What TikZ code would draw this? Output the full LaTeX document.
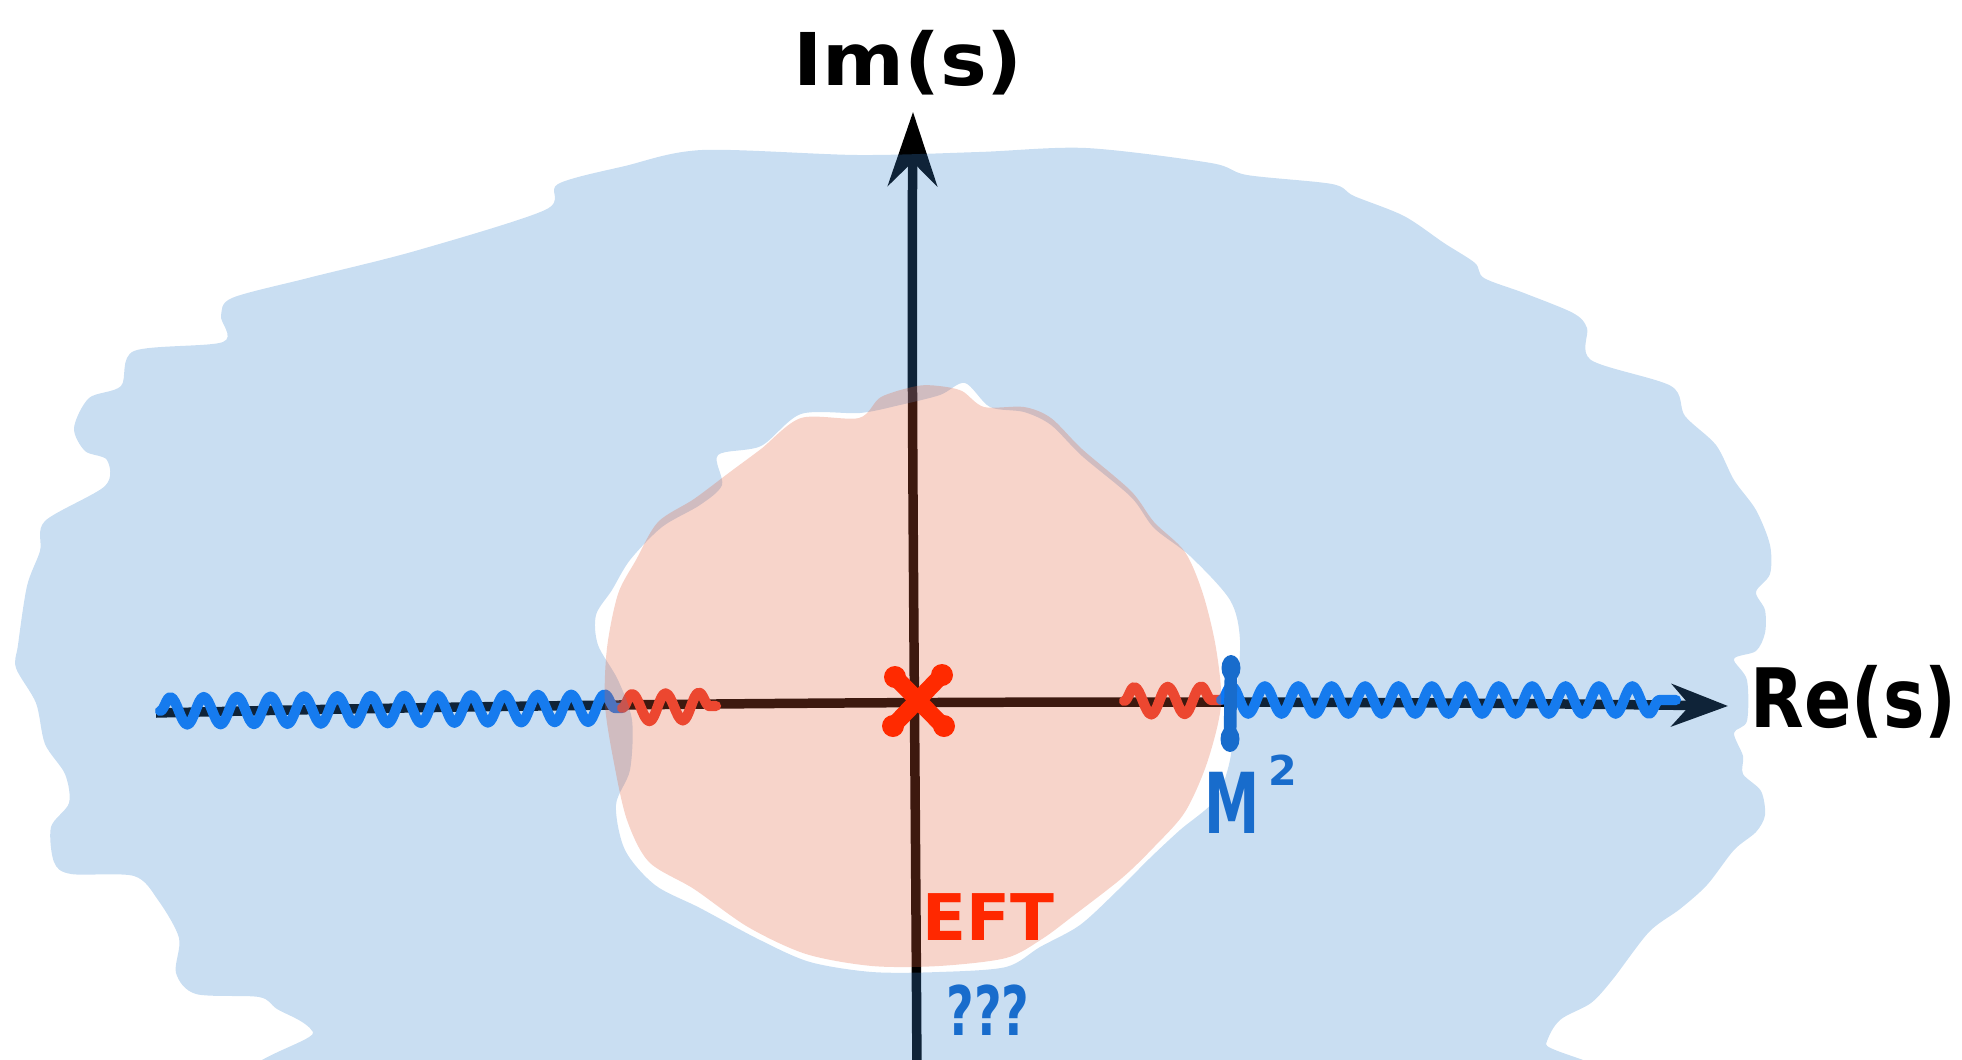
\documentclass[tikz,border=0pt]{standalone}
\usepackage{fontspec}
\setmainfont{DejaVu Sans}
\usepackage{graphicx}
\usetikzlibrary{arrows.meta,decorations.pathmorphing}
\definecolor{planeblue}{RGB}{56,133,207}
\definecolor{eftpink}{RGB}{226,96,59}
\definecolor{cutblue}{RGB}{10,120,250}
\definecolor{cutred}{RGB}{240,62,44}
\definecolor{polered}{RGB}{255,42,0}
\definecolor{massblue}{RGB}{24,108,204}
\definecolor{eftred}{RGB}{255,40,0}

\begin{document}
\begin{tikzpicture}[
  x=0.01cm,y=-0.01cm,
  axisline/.style={line width=2.7pt,draw=black},
  cutline/.style={line width=2.9pt,line cap=round,line join=round,decorate,
    decoration={snake,amplitude=3.9pt,segment length=9.5pt}},
  regionfill/.style={fill opacity=0.27},
  handlbl/.style={inner sep=0pt,font=\bfseries},
]
\useasboundingbox (0,0) rectangle (1962,1060);

% axes and cuts, below the washes
\coordinate (imlow) at (917,1080);
\coordinate (imtip) at (913,112);
\coordinate (relow) at (156,713);
\coordinate (retip) at (1728,706);
\draw[axisline,-{Stealth[length=21pt,width=14pt]}] (imlow) .. controls (915,700) and (911,400) .. (imtip);
\draw[axisline,-{Stealth[length=16pt,width=12pt]}] (relow) .. controls (700,700) and (1300,700) .. (retip);

\coordinate (cutLstart) at (160,711);
\coordinate (cutLmid) at (622,708);
\coordinate (cutLend) at (716,706);
\coordinate (cutRstart) at (1124,701);
\coordinate (branch) at (1221,700);
\coordinate (cutRend) at (1676,700);
\draw[cutline,cutblue] (cutLstart) -- (cutLmid);
\draw[cutline,cutred] (cutLmid) -- (cutLend);
\draw[cutline,cutred] (cutRstart) -- (branch);
\draw[cutline,cutblue] (branch) -- (cutRend);

% the unknown region, with a hole for the EFT disk
\fill[regionfill,planeblue,even odd rule]
  plot[smooth cycle] coordinates {(326,1090) (313,1032) (277,1009) (259,997) (196,994) (176,973) (179,938) (158,900) (134,876) (71,874) (54,862) (51,827) (69,803) (65,774) (45,744) (36,703) (16,668) (18,645) (27,586) (40,551) (45,521) (105,486) (107,460) (85,451) (74,428) (89,398) (121,386) (134,351) (223,342) (221,316) (232,298) (308,278) (415,251) (545,210) (558,184) (625,166) (702,150) (858,155) (979,152) (1086,148) (1211,163) (1247,175) (1332,184) (1354,196) (1404,216) (1444,243) (1475,263) (1484,278) (1524,293) (1573,313) (1587,328) (1591,360) (1671,386) (1685,416) (1716,445) (1734,480) (1756,510) (1770,545) (1770,574) (1756,592) (1765,610) (1765,633) (1756,651) (1734,659) (1747,680) (1747,721) (1734,733) (1743,756) (1743,774) (1761,791) (1765,815) (1756,832) (1734,850) (1707,885) (1680,909) (1649,932) (1613,979) (1591,1003) (1560,1020) (1546,1044) (1537,1090)}
  plot[smooth cycle] coordinates {(900,405) (940,395) (965,383) (990,407) (1024,412) (1051,425) (1082,456) (1131,497) (1154,528) (1190,556) (1230,600) (1240,640) (1236,700) (1230,760) (1215,800) (1180,830) (1150,858) (1118,890) (1080,925) (1040,947) (1006,967) (939,972) (872,972) (810,962) (760,940) (700,908) (655,885) (625,850) (616,805) (630,770) (632,720) (618,680) (598,645) (596,615) (612,590) (630,560) (662,527) (700,505) (722,485) (718,455) (761,446) (801,414) (860,413)};

% EFT disk
\fill[regionfill,eftpink]
  plot[smooth cycle] coordinates {(917,386) (939,386) (962,391) (984,407) (1024,407) (1051,418) (1082,449) (1131,491) (1154,522) (1185,552) (1203,594) (1216,648) (1221,705) (1207,763) (1185,812) (1154,847) (1122,878) (1073,916) (1042,939) (1006,958) (939,966) (872,966) (806,954) (748,927) (694,889) (649,862) (627,820) (614,763) (605,705) (607,648) (618,594) (636,560) (658,522) (694,499) (730,472) (761,449) (801,418) (859,418) (881,397)};

% pole at the origin
\coordinate (pole) at (917,701);
\draw[polered,line width=4.8pt,line cap=round] (pole) ++(-22,-24) -- ++(49,50);
\draw[polered,line width=4.8pt,line cap=round] (pole) ++(25,-26) -- ++(-49,51);
\fill[polered] (pole) ++(-22,-24) circle (11) ++(47,-2) circle (11) ++(2,51) circle (11) ++(-51,0) circle (11);

% branch point
\coordinate (masstop) at (1231,668);
\coordinate (massbot) at (1230,739);
\draw[massblue,line width=3.6pt,line cap=round] (masstop) -- (massbot);
\fill[massblue] (masstop) ellipse (9.5 and 13) (massbot) ellipse (9.5 and 13);

% labels
\node[handlbl,anchor=base] (imlabel) at (908,85) {\fontsize{20.7}{24}\selectfont\scalebox{1.08}[1]{Im(s)}};
\node[handlbl,anchor=base west] (relabel) at (1750,727) {\fontsize{23.3}{27}\selectfont\scalebox{0.85}[1]{Re(s)}};
\node[handlbl,anchor=base,text=massblue] (masslabel) at (1232,833) {\fontsize{23.9}{27}\selectfont\scalebox{0.66}[1]{M}};
\node[handlbl,anchor=base,text=massblue] (masssq) at (1283,785) {\fontsize{11.7}{14}\selectfont 2};
\node[handlbl,anchor=base,text=eftred] (eftlabel) at (988,940) {\fontsize{18.3}{22}\selectfont EFT};
\node[handlbl,anchor=base,text=massblue] (unknown) at (988,1035) {\fontsize{19.4}{22}\selectfont\scalebox{0.7}[1]{???}};
\end{tikzpicture}
\end{document}
